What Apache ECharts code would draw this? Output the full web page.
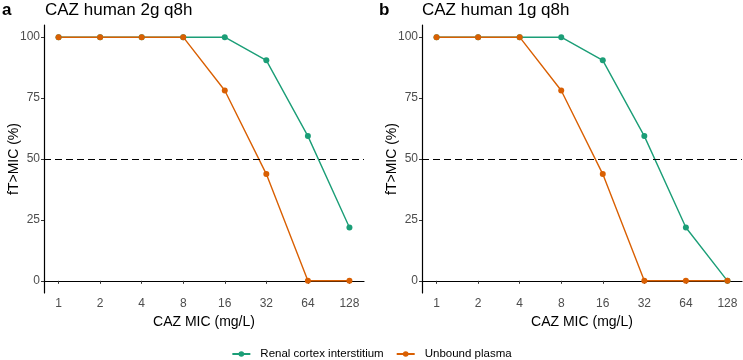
<!DOCTYPE html>
<html>
<head>
<meta charset="utf-8">
<script src="https://cdn.jsdelivr.net/npm/echarts@6/dist/echarts.min.js"></script>
<style>
  html, body { margin: 0; padding: 0; background: #fff; }
  #chart { width: 743px; height: 360px; }
</style>
</head>
<body>
<div id="chart"></div>
<script>
// MIC values (mg/L), log2-spaced
var mics = [1, 2, 4, 8, 16, 32, 64, 128];
var yTicks = [0, 25, 50, 75, 100];

// panel a: CAZ human 2g q8h
var renalA = [100, 100, 100, 100, 100, 90.5, 59.4, 21.9];
var plasmaA = [100, 100, 100, 100, 78.1, 43.8, 0, 0];
// panel b: CAZ human 1g q8h
var renalB = [100, 100, 100, 100, 90.5, 59.4, 21.9, 0];
var plasmaB = [100, 100, 100, 78.1, 43.8, 0, 0, 0];

var green = '#1b9e77';
var orange = '#d95f02';

function pairs(vals) {
    return mics.map(function (m, i) { return [m, vals[i]]; });
}

function xAxisFor(idx) {
    return {
        type: 'log',
        logBase: 2,
        gridIndex: idx,
        min: Math.pow(2, -0.35),
        max: Math.pow(2, 7.35),
        name: 'CAZ MIC (mg/L)',
        nameLocation: 'middle',
        nameGap: 22,
        nameMoveOverlap: false,
        nameTextStyle: { fontSize: 14, color: '#000' },
        axisLine: { show: true, lineStyle: { color: '#000', width: 1.2 } },
        axisTick: { show: true, length: 3, customValues: mics, lineStyle: { color: '#333' } },
        axisLabel: { customValues: mics, fontSize: 12, color: '#4d4d4d', margin: 5,
            formatter: function (v) { return String(Math.round(v)); } },
        splitLine: { show: false },
        minorTick: { show: false }
    };
}

function yAxisFor(idx) {
    return {
        type: 'value',
        gridIndex: idx,
        min: -5,
        max: 105,
        name: 'fT>MIC (%)',
        nameLocation: 'middle',
        nameGap: 23,
        nameMoveOverlap: false,
        nameTextStyle: { fontSize: 14, color: '#000' },
        axisLine: { show: true, lineStyle: { color: '#000', width: 1.2 } },
        axisTick: { show: true, length: 3, customValues: yTicks, lineStyle: { color: '#333' } },
        axisLabel: { customValues: yTicks, fontSize: 12, color: '#4d4d4d', margin: 4 },
        splitLine: { show: false }
    };
}

function lineSeries(name, color, vals, idx, withRef) {
    var s = {
        name: name,
        type: 'line',
        xAxisIndex: idx,
        yAxisIndex: idx,
        data: pairs(vals),
        symbol: 'circle',
        symbolSize: 6,
        showSymbol: true,
        itemStyle: { color: color },
        lineStyle: { color: color, width: 1.4 },
        animation: false
    };
    if (withRef) {
        s.markLine = {
            silent: true,
            symbol: 'none',
            label: { show: false },
            lineStyle: { color: '#000', type: [7, 4], width: 1.2 },
            data: [{ yAxis: 50 }]
        };
    }
    return s;
}

var myChart = echarts.init(document.getElementById('chart'), null, { renderer: 'canvas' });
var option = {
    backgroundColor: '#fff',
    animation: false,
    textStyle: { fontFamily: 'Liberation Sans' },
    title: [
        { text: 'a', left: 2, top: 2, padding: 0, textStyle: { fontSize: 17, fontWeight: 'bold', color: '#000' } },
        { text: 'CAZ human 2g q8h', left: 45, top: 2, padding: 0, textStyle: { fontSize: 17, fontWeight: 'normal', color: '#000' } },
        { text: 'b', left: 379, top: 2, padding: 0, textStyle: { fontSize: 17, fontWeight: 'bold', color: '#000' } },
        { text: 'CAZ human 1g q8h', left: 422, top: 2, padding: 0, textStyle: { fontSize: 17, fontWeight: 'normal', color: '#000' } }
    ],
    legend: {
        bottom: 0,
        left: 'center',
        padding: 0,
        itemWidth: 18,
        itemHeight: 7,
        itemGap: 12,
        textStyle: { fontSize: 11.5, color: '#000', padding: [0, 0, 0, 5] },
        data: ['Renal cortex interstitium', 'Unbound plasma']
    },
    grid: [
        { left: 44, right: 379, top: 25, height: 268 },
        { left: 422, right: 1, top: 25, height: 268 }
    ],
    xAxis: [xAxisFor(0), xAxisFor(1)],
    yAxis: [yAxisFor(0), yAxisFor(1)],
    series: [
        lineSeries('Renal cortex interstitium', green, renalA, 0, true),
        lineSeries('Unbound plasma', orange, plasmaA, 0, false),
        lineSeries('Renal cortex interstitium', green, renalB, 1, true),
        lineSeries('Unbound plasma', orange, plasmaB, 1, false)
    ]
};
myChart.setOption(option);
</script>
</body>
</html>
